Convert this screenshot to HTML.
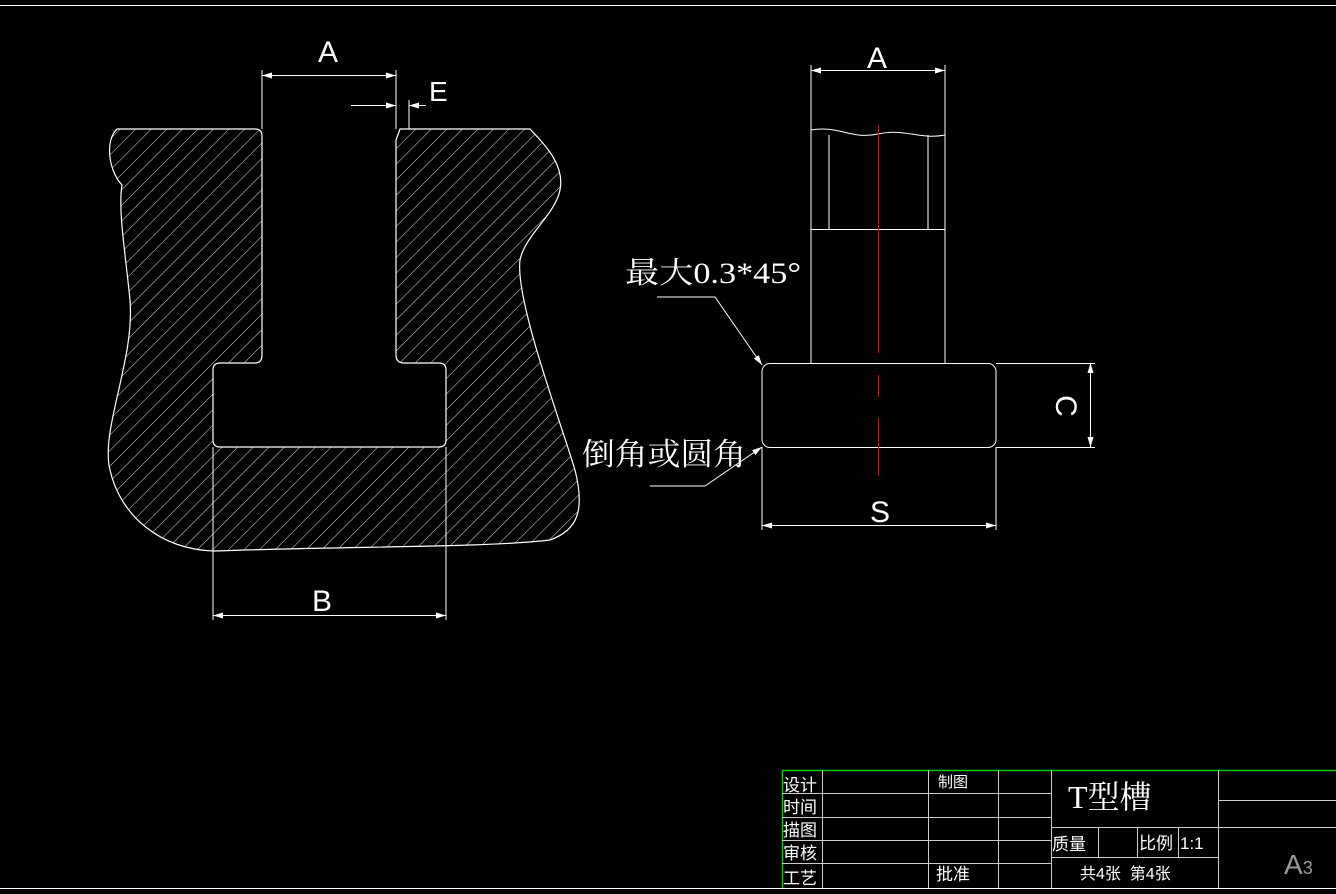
<!DOCTYPE html>
<html><head><meta charset="utf-8"><style>
html,body{margin:0;padding:0;background:#000;width:1336px;height:894px;overflow:hidden}
svg{display:block}
text{fill:#fff;font-family:"Liberation Sans","Noto Sans CJK SC",sans-serif}
.s{font-family:"Liberation Serif","Noto Serif CJK SC",serif}
</style></head><body>
<svg width="1336" height="894" viewBox="0 0 1336 894" xmlns="http://www.w3.org/2000/svg">
<defs>
<pattern id="h" patternUnits="userSpaceOnUse" width="11" height="11" patternTransform="rotate(45)">
<line x1="0" y1="0" x2="0" y2="11" stroke="#ddd" stroke-width="1"/>
</pattern>
<marker id="ar" viewBox="0 0 10 6" refX="10" refY="3" markerWidth="10" markerHeight="6" orient="auto-start-reverse" markerUnits="userSpaceOnUse"><path d="M0,0 L10,3 L0,6 Z" fill="#fff"/></marker>
</defs>
<g stroke="#fff" stroke-width="1" fill="none">
<line x1="0" y1="5.5" x2="1336" y2="5.5"/>
<line x1="0" y1="888.5" x2="1336" y2="888.5"/>

<path fill="url(#h)" stroke="#fff" stroke-width="1.2" d="M262,136 L262,355 Q262,363 255,363 L220,363 Q213,363 213,370 L213,440 Q213,447 220,447 L439,447 Q446,447 446,440 L446,370 Q446,363 439,363 L404,363 Q396,363 396,355 L396,140 L400,129 L530,129 C545,145 565,165 560,190 C555,215 525,235 520,260 C515,300 560,420 575,470 C585,510 578,530 550,540 C480,548 350,546 215,551 C160,550 120,515 110,470 C100,430 135,360 130,300 C125,250 118,210 122,185 C108,170 105,140 117,129 L255,129 Q262,129 262,136 Z"/>

<line x1="262" y1="70" x2="262" y2="129"/>
<line x1="396" y1="70" x2="396" y2="129"/>
<line x1="262" y1="75.5" x2="396" y2="75.5" marker-start="url(#ar)" marker-end="url(#ar)"/>
<line x1="409" y1="100" x2="409" y2="129"/>
<line x1="351" y1="105.5" x2="396" y2="105.5" marker-end="url(#ar)"/>
<line x1="426" y1="105.5" x2="409" y2="105.5" marker-end="url(#ar)"/>
<line x1="213" y1="447" x2="213" y2="620"/>
<line x1="446" y1="447" x2="446" y2="620"/>
<line x1="213" y1="615.5" x2="446" y2="615.5" marker-start="url(#ar)" marker-end="url(#ar)"/>

<path d="M811,363 L811,130 C840,125 850,140 878,134 C905,128 920,140 945,135 L945,363"/>
<line x1="829" y1="135" x2="829" y2="229"/>
<line x1="928" y1="135" x2="928" y2="229"/>
<line x1="811" y1="229.5" x2="945" y2="229.5"/>
<rect x="762" y="363.5" width="234" height="84" rx="8"/>
<line x1="878.5" y1="125" x2="878.5" y2="476" stroke="#e00000" stroke-dasharray="228,22,22,21,60,10"/>
<line x1="811" y1="65" x2="811" y2="130"/>
<line x1="945" y1="65" x2="945" y2="135"/>
<line x1="811" y1="70.5" x2="945" y2="70.5" marker-start="url(#ar)" marker-end="url(#ar)"/>
<line x1="762" y1="447" x2="762" y2="530"/>
<line x1="996" y1="447" x2="996" y2="530"/>
<line x1="762" y1="525.5" x2="996" y2="525.5" marker-start="url(#ar)" marker-end="url(#ar)"/>
<line x1="996" y1="363.5" x2="1095" y2="363.5"/>
<line x1="996" y1="447.5" x2="1095" y2="447.5"/>
<line x1="1090.5" y1="363" x2="1090.5" y2="447" marker-start="url(#ar)" marker-end="url(#ar)"/>
<polyline points="657,297 715,297 762,365" marker-end="url(#ar)"/>
<polyline points="650,486 705,486 762,447" marker-end="url(#ar)"/>

<g stroke="#0c0" stroke-width="1.5"><line x1="782" y1="770.5" x2="1336" y2="770.5"/><line x1="782.5" y1="770" x2="782.5" y2="888"/></g>
<g stroke="#ccc">
<line x1="782" y1="793.5" x2="1051" y2="793.5"/>
<line x1="782" y1="817.5" x2="1051" y2="817.5"/>
<line x1="782" y1="840.5" x2="1051" y2="840.5"/>
<line x1="782" y1="863.5" x2="1051" y2="863.5"/>
<line x1="822.5" y1="770" x2="822.5" y2="888"/>
<line x1="928.5" y1="770" x2="928.5" y2="888"/>
<line x1="998.5" y1="770" x2="998.5" y2="888"/>
<line x1="1051.5" y1="770" x2="1051.5" y2="888"/>
<line x1="1218.5" y1="770" x2="1218.5" y2="888"/>
<line x1="1051" y1="827.5" x2="1336" y2="827.5"/>
<line x1="1051" y1="857.5" x2="1218" y2="857.5"/>
<line x1="1218" y1="800.5" x2="1336" y2="800.5"/>
<line x1="1098.5" y1="827" x2="1098.5" y2="857"/>
<line x1="1137.5" y1="827" x2="1137.5" y2="857"/>
<line x1="1178.5" y1="827" x2="1178.5" y2="857"/>
</g>
</g>
<g font-size="30" text-anchor="middle">
<text x="328" y="62">A</text>
<text x="429" y="101" font-size="28" text-anchor="start">E</text>
<text x="322" y="611">B</text>
<text x="877" y="68">A</text>
<text x="880" y="522">S</text>
<text x="0" y="0" transform="translate(1056,406) rotate(90)">C</text>
</g>
<text x="625" y="283" font-size="30" class="s" textLength="176" lengthAdjust="spacingAndGlyphs">最大0.3*45°</text>
<text x="582" y="465" font-size="31" class="s" textLength="164" lengthAdjust="spacingAndGlyphs">倒角或圆角</text>
<g font-size="17">
<text x="783" y="791">设计</text>
<text x="783" y="813">时间</text>
<text x="783" y="836">描图</text>
<text x="783" y="859">审核</text>
<text x="783" y="884">工艺</text>
<text x="938" y="787" font-size="15">制图</text>
<text x="936" y="880">批准</text>
<text x="1052" y="850">质量</text>
<text x="1139" y="849">比例</text>
<text x="1180" y="849">1:1</text>
<text x="1080" y="879" font-size="16">共4张&#160;&#160;第4张</text>
</g>
<text x="1068" y="808" font-size="32" class="s">T型槽</text>
<text x="1284" y="874" font-size="28" style="fill:#999">A<tspan font-size="18">3</tspan></text>
</svg>
</body></html>
